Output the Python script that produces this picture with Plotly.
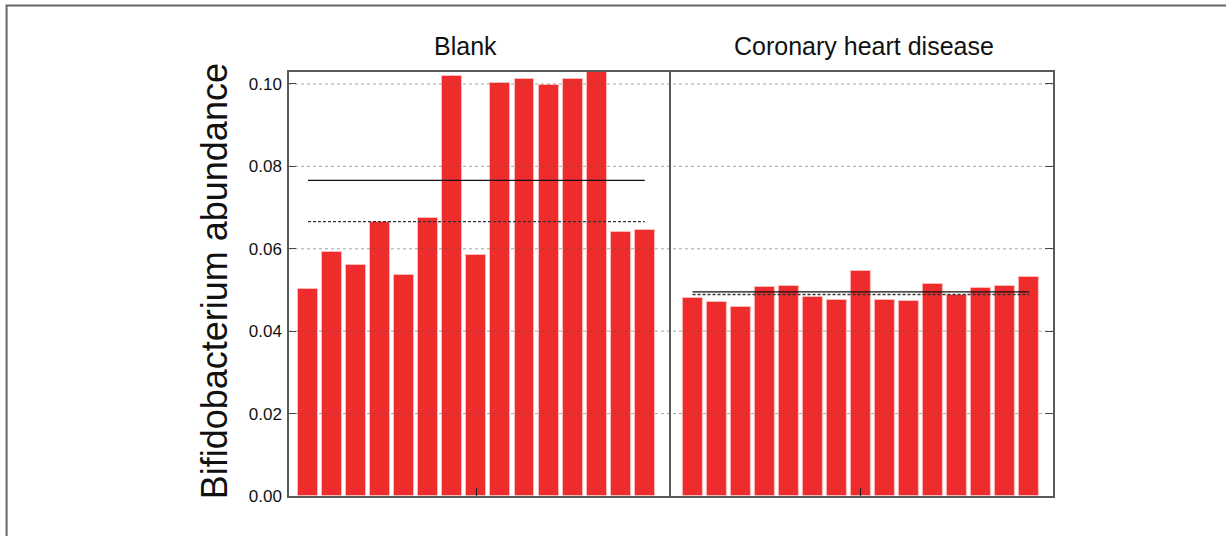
import numpy as np
import plotly.graph_objects as go

# Per-sample Bifidobacterium abundance in each group
samples = list(range(1, 16))
blank_values = [0.0502, 0.0592, 0.0561, 0.0666, 0.0536, 0.0674, 0.1020, 0.0584,
                0.1003, 0.1011, 0.0997, 0.1012, 0.1045, 0.0641, 0.0645]
chd_values = [0.0481, 0.0472, 0.0459, 0.0508, 0.0510, 0.0482, 0.0476, 0.0546,
              0.0475, 0.0473, 0.0514, 0.0489, 0.0506, 0.0510, 0.0532]
panel_titles = ["Blank", "Coronary heart disease"]
y_ticks = [0.00, 0.02, 0.04, 0.06, 0.08, 0.10]
y_tick_labels = ["0.00", "0.02", "0.04", "0.06", "0.08", "0.10"]

W, H = 1226, 536
# plot-area edges in pixels
L, R, T, B = 289.3, 1053.0, 72.3, 495.7
SPLIT = 669.0
PW, PH = R - L, B - T

def px(x):
    return (x - L) / PW

def py(y):
    return (B - y) / PH

BAR_COLOR = "#EE2C2C"
FONT = "Liberation Sans, Arial, Helvetica, sans-serif"

fig = go.Figure()

panels = [(blank_values, "x", "y"), (chd_values, "x2", "y2")]
for vals, xa, ya in panels:
    fig.add_trace(go.Bar(
        x=samples, y=vals, xaxis=xa, yaxis=ya, width=0.83,
        marker=dict(color=BAR_COLOR, line=dict(color="rgba(255,190,190,0.9)", width=1)),
        showlegend=False,
    ))
    mean_v = float(np.mean(vals))
    med_v = float(np.median(vals))
    fig.add_trace(go.Scatter(
        x=[samples[0], samples[-1]], y=[mean_v, mean_v], xaxis=xa, yaxis=ya,
        mode="lines", line=dict(color="#111111", width=1.2), showlegend=False,
    ))
    fig.add_trace(go.Scatter(
        x=[samples[0], samples[-1]], y=[med_v, med_v], xaxis=xa, yaxis=ya,
        mode="lines", line=dict(color="#333333", width=1.3, dash="3px,2px"),
        showlegend=False,
    ))

split = px(SPLIT)
frame = dict(showline=True, linecolor="#5a5a5a", linewidth=1.5,
             showgrid=False, zeroline=False)

fig.update_layout(
    width=W, height=H,
    margin=dict(l=L, r=W - R, t=T, b=H - B, pad=0),
    paper_bgcolor="white", plot_bgcolor="white",
    font=dict(family=FONT, color="#111111"),
    bargap=0,
    xaxis=dict(domain=[0, split], range=[0.21, 16.0], tickvals=[8], ticktext=[""],
               ticks="inside", ticklen=8, tickcolor="#222", tickwidth=1.2,
               mirror=True, **frame),
    xaxis2=dict(domain=[split, 1], range=[0.015, 15.99], tickvals=[8], ticktext=[""],
                ticks="inside", ticklen=8, tickcolor="#222", tickwidth=1.2,
                mirror=True, **frame),
    yaxis=dict(anchor="x", range=[0, 0.1029], tickvals=y_ticks, ticktext=y_tick_labels,
               ticks="inside", ticklen=7, tickcolor="#444", tickwidth=1.2,
               tickfont=dict(size=17, family=FONT, color="#111"),
               ticklabelstandoff=2, mirror=True, **frame),
    yaxis2=dict(anchor="x2", matches="y", side="right", tickvals=y_ticks,
                showticklabels=False, ticks="inside", ticklen=8, tickcolor="#444",
                tickwidth=1.2, mirror=False, **frame),
)

# dotted horizontal gridlines drawn over the bars
for v in y_ticks[1:]:
    fig.add_shape(type="line", xref="paper", yref="y", x0=0, x1=1, y0=v, y1=v,
                  line=dict(color="rgba(90,90,90,0.55)", width=1, dash="dot"),
                  layer="above")

# panel titles
for label, cx in zip(panel_titles, [466.0, 864.5]):
    fig.add_annotation(text=label, xref="paper", yref="paper", x=px(cx), y=py(46),
                       xanchor="center", yanchor="middle", showarrow=False,
                       font=dict(size=25, family=FONT, color="#111"))

# shared y-axis title
fig.add_annotation(text="Bifidobacterium abundance", xref="paper", yref="paper",
                   x=px(215.7), y=py(281), textangle=-90, xanchor="center",
                   yanchor="middle", showarrow=False,
                   font=dict(size=36, family=FONT, color="#111"))

# outer figure border
fig.add_shape(type="rect", xref="paper", yref="paper",
              x0=px(7), x1=px(W + 20), y0=py(6), y1=py(H + 20),
              line=dict(color="#666666", width=2), fillcolor="rgba(0,0,0,0)",
              layer="above")

fig.write_html("out.html")
